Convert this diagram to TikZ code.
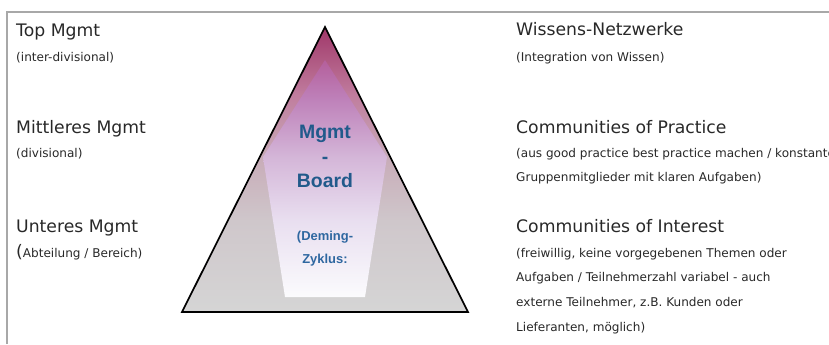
\documentclass[tikz,border=0pt]{standalone}
\usepackage{fontspec}
\setmainfont{DejaVu Sans}
\newfontfamily\arialfont{Liberation Sans}
\definecolor{framegray}{RGB}{168,168,168}
\definecolor{txt}{RGB}{40,40,40}
\definecolor{pyrblue}{RGB}{33,90,139}
\definecolor{demblue}{RGB}{46,103,160}
\definecolor{tzero}{RGB}{160,55,105}
\definecolor{tone}{RGB}{192,125,158}
\definecolor{ttwo}{RGB}{200,172,184}
\definecolor{tthree}{RGB}{207,199,203}
\definecolor{tbot}{RGB}{213,213,213}
\definecolor{pzero}{RGB}{180,95,155}
\definecolor{pone}{RGB}{190,128,185}
\definecolor{ptwo}{RGB}{212,182,216}
\definecolor{pthree}{RGB}{233,223,240}
\definecolor{pbot}{RGB}{251,251,253}
\pgfdeclareverticalshading{trishade}{100bp}{color(0bp)=(tbot); color(25bp)=(tbot); color(41bp)=(tthree); color(52bp)=(ttwo); color(63bp)=(tone); color(75bp)=(tzero); color(100bp)=(tzero)}
\pgfdeclareverticalshading{pentshade}{100bp}{color(0bp)=(pbot); color(25bp)=(pbot); color(41bp)=(pthree); color(54.5bp)=(ptwo); color(67bp)=(pone); color(75bp)=(pzero); color(100bp)=(pzero)}
\tikzset{
  ttl/.style={anchor=base west, inner sep=0pt, text=txt, font=\fontsize{17.3}{20}\selectfont},
  sub/.style={anchor=base west, inner sep=0pt, text=txt, font=\fontsize{12.1}{14}\selectfont},
  pyrbig/.style={anchor=base, inner sep=0pt, text=pyrblue, font=\arialfont\bfseries\fontsize{19.5}{22}\selectfont},
  pyrsmall/.style={anchor=base, inner sep=0pt, text=demblue, font=\arialfont\bfseries\fontsize{13}{15}\selectfont}
}
\begin{document}
\begin{tikzpicture}[x=1bp,y=1bp]
\useasboundingbox (0,0) rectangle (829,344);
% frame
\coordinate (fb) at (7,0);
\coordinate (fc) at (7,332);
\coordinate (fr) at (830,332);
\draw[framegray, line width=2bp] (fb) -- (fc) -- (fr);
% pyramid
\coordinate (apex) at (325,317);
\coordinate (bl) at (182,32);
\coordinate (br) at (468,32);
\coordinate (pa) at (325,284);
\coordinate (pl) at (263,187);
\coordinate (pbl) at (285,47);
\coordinate (pbr) at (365,47);
\coordinate (pr) at (387,187);
\shade[shading=trishade] (apex) -- (bl) -- (br) -- cycle;
\shade[shading=pentshade] (pa) -- (pl) -- (pbl) -- (pbr) -- (pr) -- cycle;
\draw[line width=1.7bp, line join=miter] (apex) -- (bl) -- (br) -- cycle;
% pyramid text
\node[pyrbig] (mg) at (325,205.7) {Mgmt};
\node[pyrbig] (dash) at (325,181) {-};
\node[pyrbig] (bd) at (325,156.3) {Board};
\node[pyrsmall] (dem) at (325,104) {(Deming-};
\node[pyrsmall] (zyk) at (325,80.7) {Zyklus:};
% left texts
\node[ttl] (l1) at (16,308) {Top Mgmt};
\node[sub] (l1s) at (16,283) {(inter-divisional)};
\node[ttl] (l2) at (16,211) {Mittleres Mgmt};
\node[sub] (l2s) at (16,187) {(divisional)};
\node[ttl] (l3) at (16,111.5) {Unteres Mgmt};
\node[sub] (l3s) at (16,87) {{\fontsize{17.3}{20}\selectfont(}Abteilung / Bereich)};
% right texts
\node[ttl] (r1) at (516,309) {Wissens-Netzwerke};
\node[sub] (r1s) at (516,283) {(Integration von Wissen)};
\node[ttl] (r2) at (516,211) {Communities of Practice};
\node[sub] (r2a) at (516,187) {(aus good practice best practice machen / konstante};
\node[sub] (r2b) at (516,162.3) {Gruppenmitglieder mit klaren Aufgaben)};
\node[ttl] (r3) at (516,111.5) {Communities of Interest};
\node[sub] (r3a) at (516,87) {(freiwillig, keine vorgegebenen Themen oder};
\node[sub] (r3b) at (516,62.3) {Aufgaben / Teilnehmerzahl variabel - auch};
\node[sub] (r3c) at (516,37.6) {externe Teilnehmer, z.B. Kunden oder};
\node[sub] (r3d) at (516,12.9) {Lieferanten, möglich)};
\end{tikzpicture}
\end{document}
